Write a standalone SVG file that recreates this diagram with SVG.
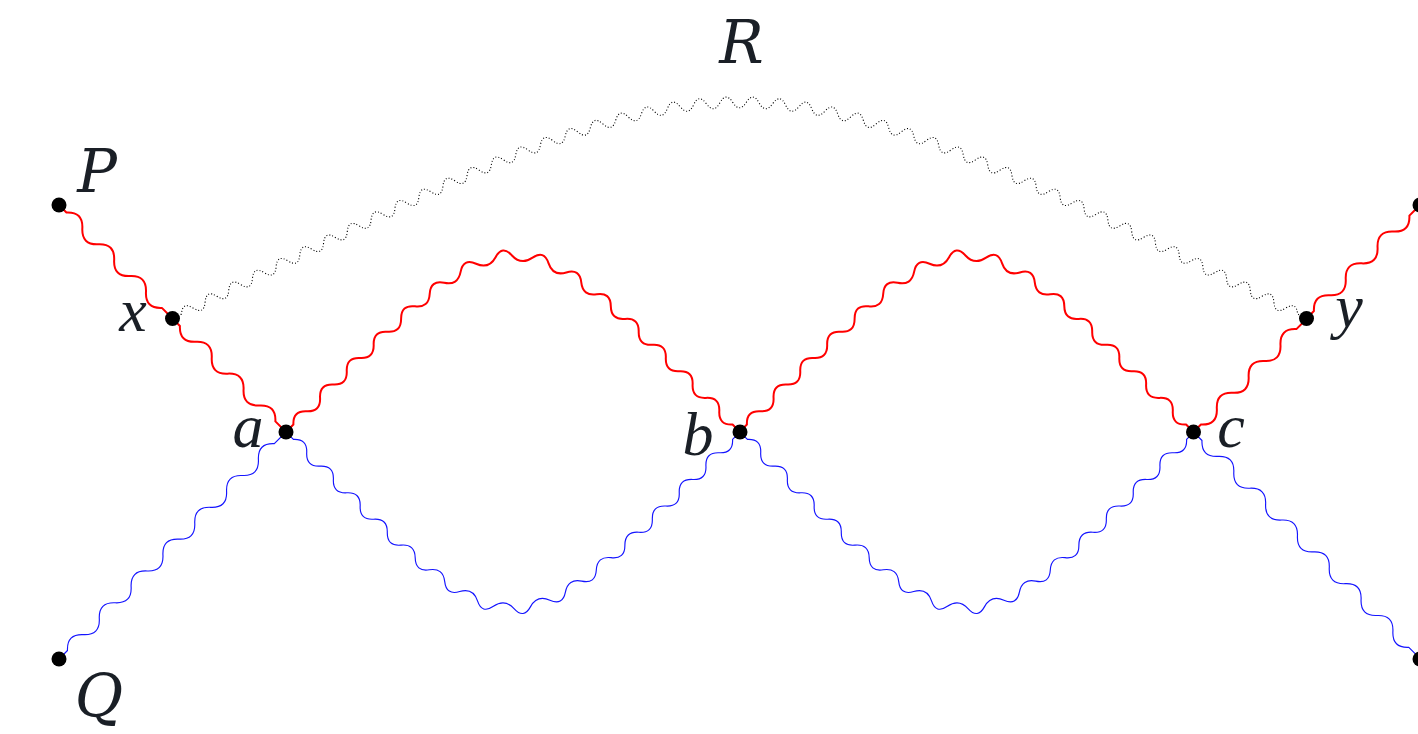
<svg xmlns="http://www.w3.org/2000/svg" width="1418" height="734" viewBox="0 0 1418 734">
<style>
.red{fill:none;stroke:#ff0000;stroke-width:2;stroke-linejoin:round;stroke-linecap:round}
.blue{fill:none;stroke:#1414ff;stroke-width:1.15;stroke-linejoin:round;stroke-linecap:round}
.dotted{fill:none;stroke:#000;stroke-width:1.1;stroke-dasharray:1 2}
.dot{fill:#000}
.lbl{fill:#1a1f26;text-anchor:middle;font-style:italic}
.cap{font-family:'DejaVu Serif','Liberation Serif',serif;font-size:59px}
.low{font-family:'Liberation Serif','DejaVu Serif',serif;font-size:62px}
</style>
<defs>
<path id="arc" d="M286,432 L293.41,424.58 Q292.70,410.58 306.73,411.24 T320.06,397.87 T333.37,384.54 T346.75,371.19 T360.13,357.95 T373.67,344.71 T387.19,331.73 T401.11,318.74 T414.97,306.34 T429.69,293.96 T444.19,282.82 T460.60,271.91 T476.07,263.77 T495.59,257.15 T511.72,255.21 T532.59,257.66 T548.49,263.13 T566.31,272.45 T581.27,282.41 T596.68,294.24 T610.80,306.14 T625.04,318.88 T638.70,331.63 T652.40,344.78 T665.83,357.91 T679.28,371.22 T692.62,384.53 T705.96,397.88 T719.29,411.25 T732.59,424.58 L740,432"/>
<path id="sw" d="M0,0 L10.5,0 Q21.75,12.4 33,0 T55.5,0 T78,0 T100.5,0 T123,0 T145.5,0 L160.5,0"/>
<path id="lw" d="M0,0 L12,0 Q23.25,12.4 34.5,0 T57,0 T79.5,0 T102,0 T124.5,0 T147,0 T169.5,0 T192,0 T214.5,0 T237,0 T259.5,0 T282,0 T304.5,0 L321,0"/>
</defs>
<g id="connectors">
<path id="edge-x-y" class="dotted" d="M172.5,318.5 L181.44,314.03 Q182.43,301.23 193.27,308.11 T205.10,302.20 T216.93,296.28 T228.76,290.37 T240.60,284.46 T252.44,278.54 T264.27,272.64 T276.12,266.75 T287.95,260.86 T299.81,254.98 T311.66,249.13 T323.53,243.26 T335.39,237.44 T347.29,231.63 T359.15,225.84 T371.08,220.07 T382.98,214.36 T394.94,208.65 T406.86,203.01 T418.87,197.37 T430.83,191.82 T442.90,186.30 T454.90,180.86 T467.04,175.46 T479.09,170.17 T491.32,164.92 T503.43,159.84 T515.76,154.79 T527.93,149.94 T540.38,145.13 T552.64,140.56 T565.23,136.05 T577.58,131.82 T590.34,127.69 T602.79,123.88 T615.72,120.21 T628.28,116.93 T641.39,113.80 T654.06,111.14 T667.34,108.64 T680.09,106.65 T693.52,104.94 T706.33,103.69 T719.88,102.85 T732.72,102.38 T746.28,102.38 T759.12,102.85 T772.67,103.69 T785.48,104.94 T798.91,106.65 T811.66,108.64 T824.94,111.14 T837.61,113.80 T850.72,116.93 T863.28,120.21 T876.21,123.88 T888.66,127.69 T901.42,131.82 T913.77,136.05 T926.36,140.56 T938.62,145.13 T951.07,149.94 T963.24,154.79 T975.57,159.84 T987.68,164.92 T999.91,170.17 T1011.96,175.46 T1024.10,180.86 T1036.10,186.30 T1048.17,191.82 T1060.13,197.37 T1072.14,203.01 T1084.06,208.65 T1096.02,214.36 T1107.92,220.07 T1119.85,225.84 T1131.71,231.63 T1143.61,237.44 T1155.47,243.26 T1167.34,249.13 T1179.19,254.98 T1191.05,260.86 T1202.88,266.75 T1214.73,272.64 T1226.56,278.54 T1238.40,284.46 T1250.24,290.37 T1262.07,296.28 T1273.90,302.20 T1285.73,308.11 T1297.56,314.03 L1306.5,318.5"/>
<use id="edge-P-x" href="#sw" class="red" transform="translate(59,205) rotate(45) scale(1,-1)"/>
<use id="edge-x-a" href="#sw" class="red" transform="translate(172.5,318.5) rotate(45)"/>
<use id="edge-a-b-red" href="#arc" class="red"/>
<use id="edge-b-c-red" href="#arc" class="red" transform="translate(453.5,0)"/>
<use id="edge-c-y" href="#sw" class="red" transform="translate(1193.5,432) rotate(-45)"/>
<use id="edge-y-TR" href="#sw" class="red" transform="translate(1306.5,318.5) rotate(-45) scale(1,-1)"/>
<use id="edge-Q-a" href="#lw" class="blue" transform="translate(59,659) rotate(-45) scale(1,-1)"/>
<use id="edge-a-b-blue" href="#arc" class="blue" transform="rotate(180 513 432)"/>
<use id="edge-b-c-blue" href="#arc" class="blue" transform="rotate(180 966.75 432) translate(453.5,0)"/>
<use id="edge-c-BR" href="#lw" class="blue" transform="translate(1193.5,432) rotate(45)"/>
</g>
<g id="node-P"><circle class="dot" cx="59" cy="205" r="7.5"/><text class="lbl cap" x="97" y="191.5">P</text></g>
<g id="node-x"><circle class="dot" cx="172.5" cy="318.5" r="7.5"/><text class="lbl low" x="133" y="331">x</text></g>
<g id="node-a"><circle class="dot" cx="286" cy="432" r="7.5"/><text class="lbl low" x="248" y="446.5">a</text></g>
<g id="node-b"><circle class="dot" cx="740" cy="432" r="7.5"/><text class="lbl low" x="698" y="455">b</text></g>
<g id="node-c"><circle class="dot" cx="1193.5" cy="432" r="7.5"/><text class="lbl low" x="1231" y="446.5">c</text></g>
<g id="node-y"><circle class="dot" cx="1306.5" cy="318.5" r="7.5"/><text class="lbl low" x="1349" y="327">y</text></g>
<g id="node-TR"><circle class="dot" cx="1420" cy="205" r="7.5"/></g>
<g id="node-Q"><circle class="dot" cx="59" cy="659" r="7.5"/><text class="lbl cap" x="99" y="716.5">Q</text></g>
<g id="node-BR"><circle class="dot" cx="1420" cy="659" r="7.5"/></g>
<g id="label-R"><text class="lbl cap" x="741.5" y="63">R</text></g>
</svg>
